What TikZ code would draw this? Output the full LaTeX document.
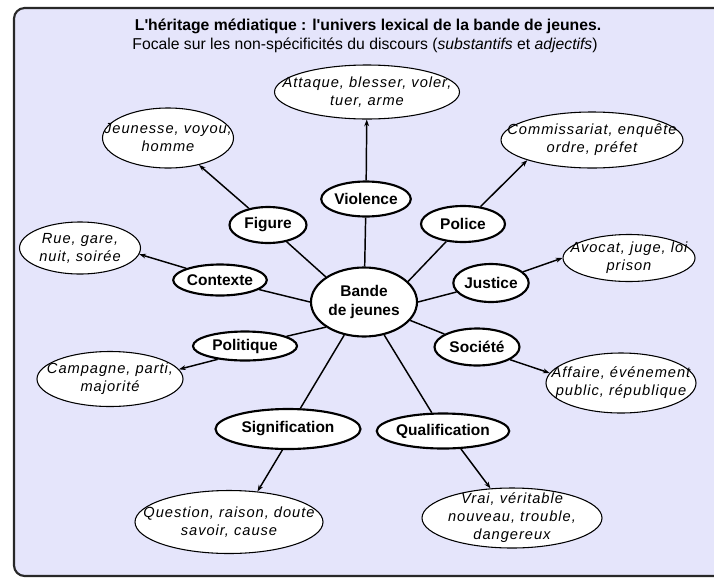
\documentclass[tikz,border=0pt]{standalone}
\usepackage{fontspec}
\setmainfont{Liberation Sans}
\usetikzlibrary{shapes.geometric,arrows.meta}
\definecolor{fond}{RGB}{229,229,251}
\definecolor{cadre}{RGB}{40,40,40}

\tikzset{
  theme/.style 2 args={ellipse, draw, line width=1.6pt, fill=white, inner sep=0pt,
    minimum width=#1*0.75pt, minimum height=#2*0.75pt, align=center,
    font=\fontsize{11.6}{14.3}\selectfont\bfseries},
  mots/.style 2 args={ellipse, draw, line width=0.8pt, fill=white, inner sep=0pt,
    minimum width=#1*0.75pt, minimum height=#2*0.75pt},
  motstexte/.style={inner sep=0pt, align=center,
    font=\fontsize{11}{13.5}\selectfont\itshape\addfontfeature{LetterSpace=6.6}},
  lien/.style={line width=1.1pt},
  fleche/.style={line width=1.1pt, -{Stealth[length=5pt,width=3.6pt]}}
}

\begin{document}
\begin{tikzpicture}[x=0.75pt, y=-0.75pt]
    \useasboundingbox (0,0) rectangle (714,579);
    \clip (0,0) rectangle (714,579);
    \draw[cadre, line width=1.6pt, fill=fond, rounded corners=8pt] (14,8) rectangle (730,576);

    %% titre
    \node[font=\fontsize{11.8}{14}\selectfont\bfseries] (titre) at (368,26)
      {L\textquotesingle héritage médiatique : l\textquotesingle univers lexical de la bande de jeunes.};
    \node[font=\fontsize{11.8}{14}\selectfont] (soustitre) at (365,45)
      {Focale sur les non-spécificités du discours (\textit{substantifs} et \textit{adjectifs})};

    %% centre
    \node[theme={106}{69}] (bande) at (364,302) {Bande\\de jeunes};

    %% thèmes
    \node[theme={81}{35}] (violence) at (366,199) {Violence};
    \node[theme={77}{36}] (figure) at (268,225) {Figure};
    \node[theme={84}{36}] (police) at (463,224) {Police};
    \node[theme={89}{31}] (contexte) at (220,280) {Contexte};
    \node[theme={68}{38}] (justice) at (491,283) {Justice};
    \node[theme={104}{29}] (politique) at (245,346) {Politique};
    \node[theme={85}{37}] (societe) at (477,347) {Société};
    \node[theme={145}{40}] (signification) at (288,429) {Signification};
    \node[theme={129}{35}] (qualification) at (443,431) {Qualification};

    %% mots
    \node[mots={185}{54}] (attaque) at (367,92) {};
    \node[motstexte] (attaque-t) at (attaque) {Attaque, blesser, voler,\\tuer, arme};
    \node[mots={131}{60}] (jeunesse) at (168,138) {};
    \node[motstexte] (jeunesse-t) at (jeunesse) {Jeunesse, voyou,\\homme};
    \node[mots={182}{56}] (commissariat) at (592,140) {};
    \node[motstexte] (commissariat-t) at (commissariat) {Commissariat, enquête\\ordre, préfet};
    \node[mots={121}{52}] (rue) at (80,248) {};
    \node[motstexte] (rue-t) at (rue) {Rue, gare,\\nuit, soirée};
    \node[mots={132}{47}] (avocat) at (629,258) {};
    \node[motstexte] (avocat-t) at (avocat) {Avocat, juge, loi\\prison};
    \node[mots={146}{55}] (campagne) at (110,379) {};
    \node[motstexte] (campagne-t) at (campagne) {Campagne, parti,\\majorité};
    \node[mots={150}{60}] (affaire) at (621,383) {};
    \node[motstexte] (affaire-t) at (affaire) {Affaire, événement\\public, république};
    \node[mots={188}{63}] (question) at (229,522) {};
    \node[motstexte] (question-t) at (question) {Question, raison, doute\\savoir, cause};
    \node[mots={180}{60}] (vrai) at (512,518) {};
    \node[motstexte] (vrai-t) at (vrai) {Vrai, véritable\\nouveau, trouble,\\dangereux};

    %% liens
    \draw[lien] (bande) -- (violence);
    \draw[lien] (figure) -- (bande.north west);
    \draw[lien] (bande.25) -- (police);
    \draw[lien] (contexte) -- (bande.west);
    \draw[lien] (bande.east) -- (justice);
    \draw[lien] (politique) -- (bande.south west);
    \draw[lien] (bande) -- (societe);
    \draw[lien] (bande) -- (signification);
    \draw[lien] (bande) -- (qualification);

    %% flèches
    \draw[fleche] (violence) -- (attaque);
    \draw[fleche] (figure) -- (jeunesse);
    \draw[fleche] (police) -- (commissariat.south west);
    \draw[fleche] (contexte.north west) -- (rue.-6);
    \draw[fleche] (justice) -- (avocat.west);
    \draw[fleche] (politique.206) -- (campagne.8);
    \draw[fleche] (societe.-21) -- (affaire.172);
    \draw[fleche] (signification.255) -- (question.47);
    \draw[fleche] (qualification.-45) -- (vrai.126);
\end{tikzpicture}
\end{document}
